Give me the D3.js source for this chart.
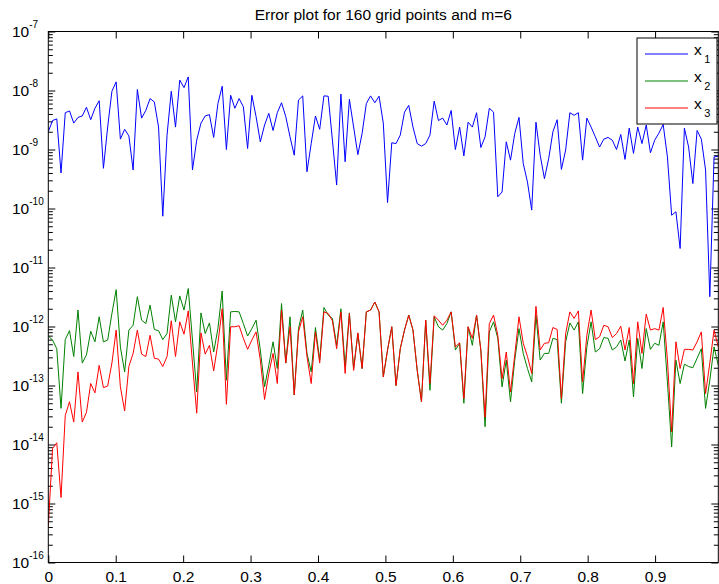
<!DOCTYPE html>
<html>
<head>
<meta charset="utf-8">
<script src="https://cdn.jsdelivr.net/npm/d3@7"></script>
<style>
  body { margin: 0; background: #fff; }
  svg { display: block; font-family: "Liberation Sans", Arial, Helvetica, sans-serif; }
</style>
</head>
<body>
<div id="chart"></div>
<script>
// chart text
const titleText = "Error plot for 160 grid points and m=6"
const legendBase = "x"
const legendSubs = ["1", "2", "3"]

// axes
const xMax = 0.99375
const xTicks = [0, 0.1, 0.2, 0.3, 0.4, 0.5, 0.6, 0.7, 0.8, 0.9]
const yExponents = [-16, -15, -14, -13, -12, -11, -10, -9, -8, -7]

// error values
const x1Err = [
  2.0e-9, 3.1e-9, 3.3e-9, 4.0e-10, 4.2e-9, 4.5e-9, 2.8e-9, 3.5e-9, 3.7e-9, 5.2e-9,
  3.2e-9, 5.0e-9, 6.7e-9, 4.8e-10, 2.4e-9, 9.7e-9, 1.4e-8, 1.5e-9, 2.2e-9, 1.7e-9,
  4.5e-10, 1.04e-8, 3.4e-9, 4.6e-9, 7.3e-9, 6.4e-9, 2.4e-9, 7.4e-11, 1.75e-9, 9.7e-9,
  2.4e-9, 1.5e-8, 1.12e-8, 1.7e-8, 4.5e-10, 1.44e-9, 2.8e-9, 3.7e-9, 3.9e-9, 1.6e-9,
  6.0e-9, 1.18e-8, 1.0e-9, 8.3e-9, 5.0e-9, 7.3e-9, 5.3e-9, 1.04e-9, 8.3e-9, 3.6e-9,
  1.35e-9, 2.6e-9, 4.1e-9, 2.1e-9, 4.2e-9, 6.2e-9, 3.6e-9, 1.64e-9, 8.0e-10, 6.9e-9,
  8.1e-9, 4.2e-10, 1.26e-9, 3.7e-9, 2.2e-9, 8.1e-9, 8.0e-9, 1.44e-9, 2.5e-10, 8.7e-9,
  6.2e-10, 7.1e-9, 2.4e-9, 8.2e-10, 1.87e-9, 6.0e-9, 8.1e-9, 6.2e-9, 8.0e-9, 2.8e-9,
  1.26e-10, 1.3e-9, 1.26e-9, 1.75e-9, 4.3e-9, 5.6e-9, 2.4e-9, 1.26e-9, 1.14e-9, 1.26e-9,
  1.75e-9, 6.6e-9, 3.1e-9, 3.4e-9, 2.6e-9, 4.6e-9, 1.0e-9, 2.4e-9, 7.8e-10, 2.9e-9,
  2.4e-9, 4.2e-9, 1.08e-9, 1.64e-9, 5.0e-9, 4.3e-9, 1.58e-10, 1.9e-10, 1.35e-9, 6.6e-10,
  1.87e-9, 3.5e-9, 5.8e-10, 2.8e-10, 9.4e-11, 2.9e-9, 8.0e-10, 3.2e-10, 7.0e-10, 2.0e-9,
  3.2e-9, 4.6e-10, 9.8e-10, 4.2e-9, 3.8e-9, 4.2e-9, 6.6e-10, 3.4e-9, 2.4e-9, 1.64e-9,
  1.1e-9, 1.5e-9, 1.6e-9, 1.44e-9, 1.0e-9, 1.8e-9, 6.8e-10, 2.3e-9, 8.6e-10, 2.4e-9,
  1.26e-9, 2.6e-9, 8.8e-10, 1.44e-9, 1.9e-9, 2.65e-9, 7.5e-10, 7.7e-11, 8.8e-11, 2.1e-11,
  2.3e-9, 1.1e-9, 2.65e-10, 2.1e-9, 1.5e-9, 4.5e-10, 3.2e-12, 7.5e-10, 7.7e-10
]
const x2Err = [
  6.9e-13, 5.9e-13, 4.2e-13, 4.1e-14, 6.0e-13, 8.5e-13, 3.1e-13, 1.9e-12, 2.4e-13, 3.3e-13,
  8.3e-13, 5.5e-13, 1.46e-12, 5.5e-13, 5.9e-13, 1.66e-12, 4.2e-12, 4.5e-13, 1.7e-13, 8.7e-13,
  1.05e-12, 3.2e-12, 1.28e-12, 1.12e-12, 2.3e-12, 8.9e-13, 8.5e-13, 6.0e-13, 7.6e-13, 3.4e-12,
  1.2e-12, 3.3e-12, 1.9e-12, 4.4e-12, 5.9e-13, 7.8e-14, 1.7e-12, 7.6e-13, 1.15e-12, 3.7e-13,
  9.2e-13, 4.0e-12, 1.23e-13, 1.77e-12, 1.8e-12, 1.77e-12, 1.12e-12, 6.9e-13, 9.2e-13, 1.28e-12,
  4.0e-13, 9.5e-14, 2.2e-13, 5.5e-13, 1.94e-13, 2.45e-12, 2.4e-13, 1.46e-12, 6.9e-14, 9.2e-13,
  1.9e-12, 3.5e-13, 1.7e-13, 9.6e-13, 2.7e-13, 2.1e-12, 1.56e-12, 1.37e-12, 4.8e-13, 2.0e-12,
  2.1e-13, 1.7e-12, 1.94e-13, 7.6e-13, 1.94e-13, 1.77e-12, 1.9e-12, 2.6e-12, 1.77e-12, 1.4e-13,
  4.0e-13, 9.9e-13, 1.0e-13, 4.2e-13, 8.7e-13, 1.56e-12, 8.7e-13, 1.8e-13, 5.3e-14, 1.28e-12,
  8.3e-14, 1.46e-12, 9.9e-13, 8.7e-13, 1.12e-12, 1.77e-12, 4.0e-13, 5.2e-13, 5.0e-14, 9.9e-13,
  4.8e-13, 1.56e-12, 4.0e-13, 2.0e-14, 8.1e-13, 1.2e-12, 6.3e-13, 9.5e-14, 2.7e-13, 5.3e-14,
  2.7e-13, 9.2e-13, 3.5e-13, 1.94e-13, 1.15e-13, 1.56e-12, 2.7e-13, 3.5e-13, 3.5e-13, 6.3e-13,
  6.0e-13, 5.0e-14, 5.5e-13, 1.15e-12, 8.7e-13, 1.2e-12, 7.3e-14, 4.5e-13, 1.2e-12, 3.7e-13,
  4.2e-13, 6.5e-13, 6.3e-13, 4.0e-13, 4.5e-13, 5.9e-13, 2.6e-13, 5.9e-13, 6.4e-14, 6.3e-13,
  1.94e-13, 9.2e-13, 4.1e-13, 5.2e-13, 4.8e-13, 1.2e-12, 1.15e-13, 9.1e-15, 2.7e-13, 1.08e-13,
  2.3e-13, 2.1e-13, 2.0e-13, 2.9e-13, 4.2e-13, 4.1e-14, 1.23e-13, 4.5e-13, 2.2e-13
]
const x3Err = [
  4.1e-16, 8.5e-15, 1.07e-14, 1.26e-15, 3.1e-14, 5.3e-14, 2.4e-14, 1.7e-13, 2.4e-14, 3.5e-14,
  1.08e-13, 7.5e-14, 2.2e-13, 9.2e-14, 9.8e-14, 2.4e-13, 8.7e-13, 9.5e-14, 3.7e-14, 2.1e-13,
  3.5e-13, 8.7e-13, 3.4e-13, 3.1e-13, 7.1e-13, 2.9e-13, 2.8e-13, 2.1e-13, 3.1e-13, 1.25e-12,
  3.1e-13, 1.2e-12, 7.4e-13, 1.84e-12, 2.4e-13, 3.4e-14, 7.8e-13, 3.4e-13, 4.8e-13, 1.77e-13,
  5.2e-13, 2.0e-12, 4.8e-14, 9.9e-13, 9.9e-13, 1.03e-12, 6.3e-13, 4.1e-13, 5.9e-13, 8.1e-13,
  2.7e-13, 5.8e-14, 1.6e-13, 3.5e-13, 1.08e-13, 1.9e-12, 2.4e-13, 9.9e-13, 6.9e-14, 8.1e-13,
  1.46e-12, 3.1e-13, 1.08e-13, 8.1e-13, 2.4e-13, 1.77e-12, 1.66e-12, 1.25e-12, 4.2e-13, 1.77e-12,
  1.6e-13, 1.66e-12, 1.8e-13, 7.8e-13, 1.94e-13, 1.77e-12, 1.9e-12, 2.6e-12, 1.77e-12, 1.4e-13,
  4.0e-13, 9.9e-13, 1.0e-13, 4.2e-13, 8.7e-13, 1.56e-12, 8.7e-13, 1.8e-13, 5.3e-14, 1.28e-12,
  1.08e-13, 1.52e-12, 1.28e-12, 1.05e-12, 1.28e-12, 1.77e-12, 4.5e-13, 5.3e-13, 6.0e-14, 9.9e-13,
  6.3e-13, 1.56e-12, 4.0e-13, 2.9e-14, 1.12e-12, 1.56e-12, 7.1e-13, 1.3e-13, 3.7e-13, 7.8e-14,
  3.3e-13, 1.46e-12, 5.2e-13, 3.1e-13, 1.6e-13, 2.2e-12, 4.0e-13, 5.2e-13, 5.3e-13, 9.6e-13,
  8.9e-13, 6.0e-14, 7.6e-13, 1.77e-12, 1.37e-12, 1.84e-12, 1.15e-13, 7.1e-13, 1.9e-12, 6.0e-13,
  6.7e-13, 1.05e-12, 9.9e-13, 6.5e-13, 7.6e-13, 1.01e-12, 4.0e-13, 9.6e-13, 1.08e-13, 1.2e-12,
  3.5e-13, 1.62e-12, 8.7e-13, 9.2e-13, 8.7e-13, 2.1e-12, 2.7e-13, 1.64e-14, 5.5e-13, 1.94e-13,
  4.1e-13, 4.1e-13, 4.0e-13, 5.5e-13, 8.1e-13, 7.3e-14, 2.4e-13, 8.7e-13, 4.5e-13
]

function draw() {
  const series = [
    { sub: legendSubs[0], values: x1Err, color: '#0000ff' },
    { sub: legendSubs[1], values: x2Err, color: '#008000' },
    { sub: legendSubs[2], values: x3Err, color: '#ff0000' }
  ]

  // dimensions
  let dimensions = {
    width: 719,
    height: 584,
    margin: {
      top: 31.5,
      bottom: 21.5,
      left: 48.3,
      right: 0.7
    }
  }
  dimensions.ctrWidth = dimensions.width - dimensions.margin.left - dimensions.margin.right
  dimensions.ctrHeight = dimensions.height - dimensions.margin.top - dimensions.margin.bottom

  const svg = d3.select('#chart')
    .append('svg')
    .attr('width', dimensions.width)
    .attr('height', dimensions.height)

  svg.append('rect')
    .attr('width', dimensions.width)
    .attr('height', dimensions.height)
    .attr('fill', '#fff')

  const ctr = svg.append('g')
    .attr('transform', `translate(${dimensions.margin.left}, ${dimensions.margin.top})`)

  // scales
  const xScale = d3.scaleLinear()
    .domain([0, xMax])
    .range([0, dimensions.ctrWidth])

  const yScale = d3.scaleLog()
    .domain([1e-16, 1e-7])
    .range([dimensions.ctrHeight, 0])

  // ticks: majors at the decades, minors at 2..9 times each decade
  const yMajor = yExponents.map(e => Math.pow(10, e))
  const yMinor = []
  yExponents.slice(0, -1).forEach(e => {
    for (let m = 2; m <= 9; m++) yMinor.push(m * Math.pow(10, e))
  })

  const tickLen = 7
  const minorLen = 4.5

  const addAxis = (axis, transform) => {
    const g = ctr.append('g')
      .attr('transform', transform)
      .attr('color', '#000')
      .call(axis)
    g.select('.domain').remove()
    g.selectAll('line').attr('stroke-width', 1)
    return g
  }

  // bottom axis with labels
  const xAxisGroup = addAxis(
    d3.axisBottom(xScale).tickValues(xTicks).tickSizeInner(-tickLen).tickSizeOuter(0)
      .tickPadding(8).tickFormat(d3.format('')),
    `translate(0, ${dimensions.ctrHeight})`
  )
  xAxisGroup.selectAll('text')
    .attr('font-size', 15.5)
    .attr('font-family', '"Liberation Sans", Arial, sans-serif')

  // top axis, ticks only
  addAxis(
    d3.axisTop(xScale).tickValues(xTicks).tickSizeInner(-tickLen).tickSizeOuter(0).tickFormat(''),
    'translate(0, 0)'
  )

  // left and right axes, ticks only
  addAxis(d3.axisLeft(yScale).tickValues(yMajor).tickSizeInner(-tickLen).tickSizeOuter(0).tickFormat(''), 'translate(0, 0)')
  addAxis(d3.axisLeft(yScale).tickValues(yMinor).tickSizeInner(-minorLen).tickSizeOuter(0).tickFormat(''), 'translate(0, 0)')
  addAxis(d3.axisRight(yScale).tickValues(yMajor).tickSizeInner(-tickLen).tickSizeOuter(0).tickFormat(''), `translate(${dimensions.ctrWidth}, 0)`)
  addAxis(d3.axisRight(yScale).tickValues(yMinor).tickSizeInner(-minorLen).tickSizeOuter(0).tickFormat(''), `translate(${dimensions.ctrWidth}, 0)`)

  // y labels as 10 with a superscript exponent
  const yLabels = svg.append('g')
    .selectAll('text')
    .data(yExponents)
    .join('text')
    .attr('x', 12)
    .attr('y', d => dimensions.margin.top + yScale(Math.pow(10, d)) + 5.3)
    .attr('font-size', 15.5)
    .attr('fill', '#000')
  yLabels.append('tspan').text('10')
  yLabels.append('tspan')
    .attr('dy', -9.3)
    .attr('font-size', 10)
    .text(d => String(d))

  // lines
  svg.append('clipPath')
    .attr('id', 'plot-clip')
    .append('rect')
    .attr('width', dimensions.ctrWidth)
    .attr('height', dimensions.ctrHeight)

  const plot = ctr.append('g').attr('clip-path', 'url(#plot-clip)')

  series.forEach(s => {
    const n = s.values.length
    const line = d3.line()
      .x((d, i) => xScale(i / (n - 1) * xMax))
      .y(d => yScale(d))
    plot.append('path')
      .datum(s.values)
      .attr('d', line)
      .attr('fill', 'none')
      .attr('stroke', s.color)
      .attr('stroke-width', 1)
      .attr('stroke-linejoin', 'round')
  })

  // axes box
  ctr.append('rect')
    .attr('width', dimensions.ctrWidth)
    .attr('height', dimensions.ctrHeight)
    .attr('fill', 'none')
    .attr('stroke', '#000')
    .attr('stroke-width', 1)

  // title
  svg.append('text')
    .attr('x', dimensions.margin.left + dimensions.ctrWidth / 2)
    .attr('y', 20)
    .attr('text-anchor', 'middle')
    .attr('font-size', 15.5)
    .attr('fill', '#000')
    .text(titleText)

  // legend
  const legend = svg.append('g').attr('transform', 'translate(637, 38)')
  legend.append('rect')
    .attr('width', 80)
    .attr('height', 86)
    .attr('fill', '#fff')
    .attr('stroke', '#000')
    .attr('stroke-width', 1)

  const items = legend.selectAll('g.item')
    .data(series)
    .join('g')
    .attr('class', 'item')
    .attr('transform', (d, i) => `translate(0, ${16 + i * 27})`)

  items.append('line')
    .attr('x1', 8)
    .attr('x2', 51)
    .attr('stroke', d => d.color)
    .attr('stroke-width', 1)

  const labels = items.append('text')
    .attr('x', 57)
    .attr('y', 1)
    .attr('font-size', 15.5)
    .attr('fill', '#000')
  labels.append('tspan').text(legendBase)
  labels.append('tspan')
    .attr('dx', 2.5)
    .attr('dy', 8)
    .attr('font-size', 11)
    .text(d => d.sub)
}

draw()
</script>
</body>
</html>
